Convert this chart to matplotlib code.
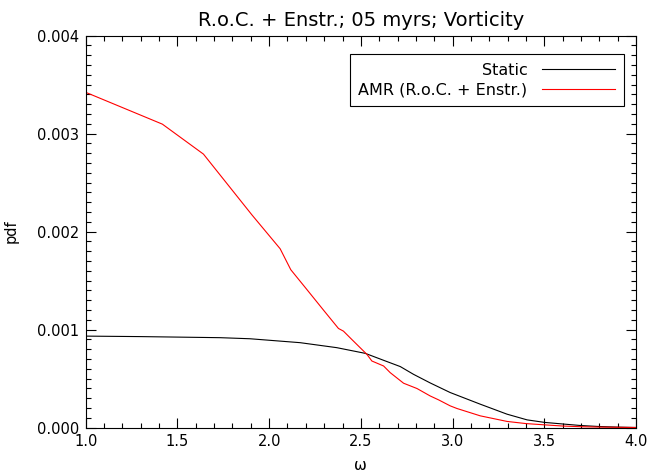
import matplotlib
matplotlib.use("Agg")
import matplotlib.pyplot as plt
from matplotlib.ticker import MultipleLocator, FormatStrFormatter

plt.rcParams['font.family'] = ['DejaVu Sans']

title = "R.o.C. + Enstr.; 05 myrs; Vorticity"
xlabel = "ω"
ylabel = "pdf"
label_static = "Static"
label_amr = "AMR (R.o.C. + Enstr.)"

static_x = [1.0, 1.3, 1.733, 1.896, 2.06, 2.169, 2.369, 2.524, 2.624, 2.715,
            2.787, 2.878, 2.987, 3.151, 3.297, 3.406, 3.502, 3.606, 3.7, 3.8,
            3.9, 4.0]
static_y = [0.000933, 0.000928, 0.000917, 0.000906, 0.000882, 0.000866,
            0.000815, 0.000757, 0.000686, 0.000622, 0.000543, 0.000455,
            0.000357, 0.000238, 0.000136, 0.000078, 0.000052, 0.000035,
            0.00002, 0.00001, 0.000004, 0.0]

amr_x = [1.0, 1.418, 1.642, 1.906, 2.06, 2.118, 2.2, 2.3, 2.378, 2.405,
         2.45, 2.496, 2.533, 2.56, 2.624, 2.66, 2.733, 2.806, 2.878, 2.924,
         2.987, 3.024, 3.151, 3.297, 3.4, 3.502, 3.6, 3.7, 3.8, 3.9, 4.0]
amr_y = [0.003422, 0.003097, 0.002791, 0.002171, 0.001825, 0.001611,
         0.001422, 0.00119, 0.001011, 0.000984, 0.0009, 0.000815, 0.000747,
         0.000679, 0.000628, 0.00056, 0.000452, 0.000398, 0.000322, 0.000282,
         0.000221, 0.000194, 0.000119, 0.000062, 0.00004, 0.000027, 0.000015,
         0.000008, 0.000004, 0.000002, 0.0]

W, H = 649, 473
fig = plt.figure(figsize=(W / 100, H / 100), dpi=100)
left, right, top, bottom = 85.7, 636.0, 35.7, 427.5
ax = fig.add_axes([left / W, 1 - bottom / H, (right - left) / W, (bottom - top) / H])

ax.plot(static_x, static_y, color='black', lw=0.8, label=label_static)
ax.plot(amr_x, amr_y, color='#ff0000', lw=0.8, label=label_amr)

ax.set_xlim(1.0, 4.0)
ax.set_ylim(0.0, 0.004)
ax.xaxis.set_major_locator(MultipleLocator(0.5))
ax.xaxis.set_minor_locator(MultipleLocator(0.1))
ax.yaxis.set_major_locator(MultipleLocator(0.001))
ax.yaxis.set_minor_locator(MultipleLocator(0.0001))
ax.xaxis.set_major_formatter(FormatStrFormatter('%.1f'))
ax.yaxis.set_major_formatter(FormatStrFormatter('%.3f'))

ax.tick_params(which='both', direction='in', top=True, right=True, width=0.8,
               labelsize=10.5, color='black')
ax.tick_params(which='major', length=7.5, pad=5)
ax.tick_params(which='minor', length=3.8)
for s in ax.spines.values():
    s.set_linewidth(0.8)

ax.set_title(title, fontsize=14, pad=7)
ax.set_xlabel(xlabel, fontsize=11, labelpad=6)
ax.set_ylabel(ylabel, fontsize=10.5, labelpad=13)

leg = ax.legend(loc='upper right', bbox_to_anchor=(0.9785, 0.953), markerfirst=False,
                fontsize=11.5, handlelength=4.6, handletextpad=0.9,
                borderpad=0.55, labelspacing=0.3, fancybox=False,
                framealpha=1, edgecolor='black', borderaxespad=0)
leg.get_frame().set_linewidth(0.8)

fig.savefig("out.png", dpi=100)
